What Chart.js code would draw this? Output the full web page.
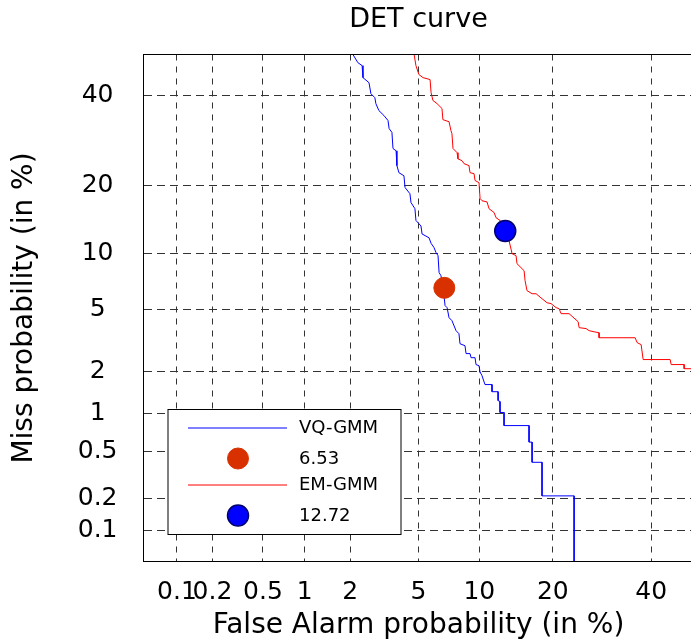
<!DOCTYPE html>
<html>
<head>
<meta charset="utf-8">
<script src="https://cdn.jsdelivr.net/npm/chart.js@4.4.0/dist/chart.umd.min.js"></script>
<style>
html, body { margin: 0; padding: 0; overflow: hidden; background: #fff; }
#detChart { position: absolute; left: 0; top: 0; }
</style>
</head>
<body>
<canvas id="detChart" width="700" height="643"></canvas>
<script>
// tick marks on both probability axes (in %)
var tickPercents = [0.1, 0.2, 0.5, 1, 2, 5, 10, 20, 40];
var tickLabels = ['0.1', '0.2', '0.5', '1', '2', '5', '10', '20', '40'];

// VQ-GMM curve, false alarm / miss probability in %
var vqFalseAlarm = [2.08, 2.23, 2.37, 2.40, 2.61, 2.68, 2.83, 2.87, 2.99, 3.20, 3.38, 3.43, 3.56, 3.61, 3.76, 3.80, 3.90,
    4.16, 4.22, 4.49, 4.55, 4.78, 4.84, 5.15, 5.22, 5.68, 5.82, 6.02, 6.17, 6.32, 6.40, 6.54, 6.69, 6.86, 7.02, 7.18,
    7.42, 7.77, 8.03, 8.12, 8.58, 8.68, 9.06, 9.16, 9.56, 9.66, 9.97, 10.08, 10.29, 10.61, 11.40, 11.40, 12.12, 12.12,
    12.35, 12.35, 12.85, 12.85, 16.26, 16.26, 16.71, 16.71, 18.24, 18.24, 23.75, 23.75];
var vqMiss = [50.6, 48.5, 47.7, 44.6, 43.3, 40.5, 39.5, 38.0, 36.3, 35.1, 33.9, 32.0, 31.1, 27.5, 27.0, 23.9, 22.5,
    21.9, 19.7, 18.6, 17.1, 16.1, 14.3, 13.5, 12.4, 11.9, 11.2, 10.7, 10.1, 9.74, 7.97, 7.68, 6.78, 5.24, 5.10, 4.45,
    4.27, 3.71, 3.55, 3.07, 2.98, 2.65, 2.65, 2.49, 2.49, 2.24, 2.20, 2.00, 1.88, 1.63, 1.63, 1.45, 1.45, 1.25,
    1.23, 1.02, 1.02, 0.81, 0.81, 0.60, 0.60, 0.41, 0.41, 0.21, 0.21, 0.04];

// EM-GMM curve
var emFalseAlarm = [4.73, 4.84, 5.02, 5.28, 5.75, 5.82, 5.95, 6.25, 6.62, 6.69, 7.18, 7.34, 7.42, 7.51, 7.86, 7.94,
    8.31, 8.49, 8.96, 9.06, 9.46, 9.56, 9.97, 10.08, 10.29, 10.84, 11.06, 11.64, 11.88, 12.35, 12.98, 13.49, 13.75,
    13.88, 14.42, 14.55, 15.54, 15.68, 15.96, 16.71, 17.31, 18.24, 19.05, 19.70, 20.55, 21.06, 21.41, 22.83, 24.50,
    24.69, 26.02, 26.61, 27.60, 28.61, 28.61, 36.34, 36.80, 37.70, 38.16, 44.45, 44.68, 47.77, 47.77, 50.5];
var emMiss = [50.6, 47.7, 45.4, 44.6, 44.1, 40.8, 38.8, 38.0, 36.8, 34.1, 33.6, 31.5, 30.8, 27.5, 26.6, 25.3,
    24.9, 24.3, 23.9, 22.5, 22.3, 21.0, 20.6, 17.8, 17.4, 17.2, 16.1, 15.5, 14.7, 14.3, 12.85, 11.5, 10.5,
    9.97, 9.74, 8.87, 8.16, 7.22, 6.37, 6.12, 6.12, 5.74, 5.44, 5.38, 5.10, 5.03, 4.70, 4.70, 4.21,
    3.87, 3.82, 3.71, 3.65, 3.60, 3.35, 3.35, 3.12, 3.03, 2.42, 2.42, 2.24, 2.24, 2.10, 2.10];

// equal error rate markers: legend text and where they sit on the plot (in %)
var eerLabels = ['6.53', '12.72'];
var eerFalseAlarm = [6.8, 13.0];
var eerMiss = [6.6, 12.8];

var axisMinPct = 0.05;
var xMaxPct = 50;
var yMaxPct = 50.6;

// inverse normal CDF (Acklam)
function probit(p) {
    var a = [-3.969683028665376e+01, 2.209460984245205e+02, -2.759285104469687e+02, 1.383577518672690e+02, -3.066479806614716e+01, 2.506628277459239e+00];
    var b = [-5.447609879822406e+01, 1.615858368580409e+02, -1.556989798598866e+02, 6.680131188771972e+01, -1.328068155288572e+01];
    var c = [-7.784894002430293e-03, -3.223964580411365e-01, -2.400758277161838e+00, -2.549732539343734e+00, 4.374664141464968e+00, 2.938163982698783e+00];
    var d = [7.784695709041462e-03, 3.224671290700398e-01, 2.445134137142996e+00, 3.754408661907416e+00];
    var plow = 0.02425, q, r;
    if (p < plow) {
        q = Math.sqrt(-2 * Math.log(p));
        return (((((c[0] * q + c[1]) * q + c[2]) * q + c[3]) * q + c[4]) * q + c[5]) / ((((d[0] * q + d[1]) * q + d[2]) * q + d[3]) * q + 1);
    }
    if (p > 1 - plow) {
        q = Math.sqrt(-2 * Math.log(1 - p));
        return -(((((c[0] * q + c[1]) * q + c[2]) * q + c[3]) * q + c[4]) * q + c[5]) / ((((d[0] * q + d[1]) * q + d[2]) * q + d[3]) * q + 1);
    }
    q = p - 0.5;
    r = q * q;
    return (((((a[0] * r + a[1]) * r + a[2]) * r + a[3]) * r + a[4]) * r + a[5]) * q / (((((b[0] * r + b[1]) * r + b[2]) * r + b[3]) * r + b[4]) * r + 1);
}

function toPoints(fa, miss) {
    return fa.map(function (v, i) {
        return { x: probit(v / 100), y: probit(miss[i] / 100) };
    });
}

var FONT = 'DejaVu Sans';

var framePlugin = {
    id: 'frame',
    afterDraw: function (chart) {
        var ctx = chart.ctx, a = chart.chartArea;
        ctx.save();
        ctx.strokeStyle = '#000';
        ctx.lineWidth = 1;
        ctx.strokeRect(a.left, a.top, a.right - a.left, a.bottom - a.top);
        ctx.fillStyle = '#000';
        ctx.font = '27px "' + FONT + '"';
        ctx.textAlign = 'center';
        ctx.textBaseline = 'middle';
        ctx.fillText('DET curve', (a.left + a.right) / 2, 20);
        ctx.restore();
    }
};

var boxLegendPlugin = {
    id: 'boxLegend',
    afterDraw: function (chart) {
        var ctx = chart.ctx, a = chart.chartArea;
        var left = a.left + 24.5, right = left + 233;
        var bottom = a.bottom - 27, top = bottom - 125;
        var rows = [18, 49, 75, 106];
        ctx.save();
        ctx.fillStyle = '#fff';
        ctx.fillRect(left, top, right - left, bottom - top);
        ctx.strokeStyle = '#000';
        ctx.lineWidth = 1;
        ctx.strokeRect(left, top, right - left, bottom - top);
        ctx.font = '18px "' + FONT + '"';
        ctx.textBaseline = 'middle';
        chart.data.datasets.forEach(function (ds, i) {
            var y = top + rows[i];
            if (ds.showLine) {
                ctx.strokeStyle = ds.borderColor;
                ctx.lineWidth = ds.borderWidth;
                ctx.beginPath();
                ctx.moveTo(left + 20, y + 0.5);
                ctx.lineTo(left + 119, y + 0.5);
                ctx.stroke();
            } else {
                ctx.beginPath();
                ctx.arc(left + 70, y, ds.pointRadius, 0, Math.PI * 2);
                ctx.fillStyle = ds.backgroundColor;
                ctx.fill();
                ctx.strokeStyle = ds.borderColor;
                ctx.lineWidth = ds.borderWidth;
                ctx.stroke();
            }
            ctx.fillStyle = '#000';
            ctx.fillText(ds.label, left + 131, y + 1);
        });
        ctx.restore();
    }
};

function probTicks(scale) {
    scale.ticks = tickPercents.map(function (p) { return { value: probit(p / 100) }; });
}

var ctx = document.getElementById('detChart').getContext('2d');
var detChart = new Chart(ctx, {
    type: 'scatter',
    data: {
        datasets: [{
            label: 'VQ-GMM',
            data: toPoints(vqFalseAlarm, vqMiss),
            showLine: true,
            borderColor: '#0000ff',
            borderWidth: 1,
            pointRadius: 0,
            order: 1
        }, {
            label: eerLabels[0],
            data: toPoints(eerFalseAlarm.slice(0, 1), eerMiss.slice(0, 1)),
            showLine: false,
            backgroundColor: '#d93000',
            borderColor: '#d93000',
            borderWidth: 1,
            pointRadius: 10.5,
            order: 0
        }, {
            label: 'EM-GMM',
            data: toPoints(emFalseAlarm, emMiss),
            showLine: true,
            borderColor: '#ff0000',
            borderWidth: 1,
            pointRadius: 0,
            order: 1
        }, {
            label: eerLabels[1],
            data: toPoints(eerFalseAlarm.slice(1), eerMiss.slice(1)),
            showLine: false,
            backgroundColor: '#0000ff',
            borderColor: '#00006e',
            borderWidth: 1.5,
            pointRadius: 10.5,
            order: 0
        }]
    },
    options: {
        responsive: false,
        animation: false,
        layout: {
            autoPadding: false,
            padding: { left: 0, right: 6.5, top: 54.5, bottom: 0 }
        },
        plugins: {
            legend: { display: false },
            tooltip: { enabled: false },
            title: { display: false }
        },
        scales: {
            x: {
                type: 'linear',
                min: probit(axisMinPct / 100),
                max: probit(xMaxPct / 100),
                afterBuildTicks: probTicks,
                afterFit: function (scale) {
                    scale.height = 81.5;
                    scale.paddingLeft = 0;
                    scale.paddingRight = 0;
                },
                ticks: {
                    autoSkip: false,
                    maxRotation: 0,
                    padding: 16,
                    color: '#000',
                    font: { family: FONT, size: 25 },
                    callback: function (v, i) { return tickLabels[i]; }
                },
                grid: { color: '#333', lineWidth: 1, drawTicks: false },
                border: { display: false, dash: [6, 6] },
                title: {
                    display: true,
                    text: 'False Alarm probability (in %)',
                    color: '#000',
                    font: { family: FONT, size: 28 },
                    padding: { top: 0, bottom: 0 }
                }
            },
            y: {
                type: 'linear',
                min: probit(axisMinPct / 100),
                max: probit(yMaxPct / 100),
                afterBuildTicks: probTicks,
                afterFit: function (scale) {
                    scale.width = 143.5;
                    scale.paddingTop = 0;
                    scale.paddingBottom = 0;
                },
                ticks: {
                    autoSkip: false,
                    crossAlign: 'center',
                    padding: 26,
                    color: '#000',
                    font: { family: FONT, size: 25 },
                    callback: function (v, i) { return tickLabels[i]; }
                },
                grid: { color: '#333', lineWidth: 1, drawTicks: false },
                border: { display: false, dash: [8, 5] },
                title: {
                    display: true,
                    text: 'Miss probability (in %)',
                    color: '#000',
                    font: { family: FONT, size: 28 },
                    padding: { top: 8, bottom: 0 }
                }
            }
        }
    },
    plugins: [framePlugin, boxLegendPlugin]
});
</script>
</body>
</html>
